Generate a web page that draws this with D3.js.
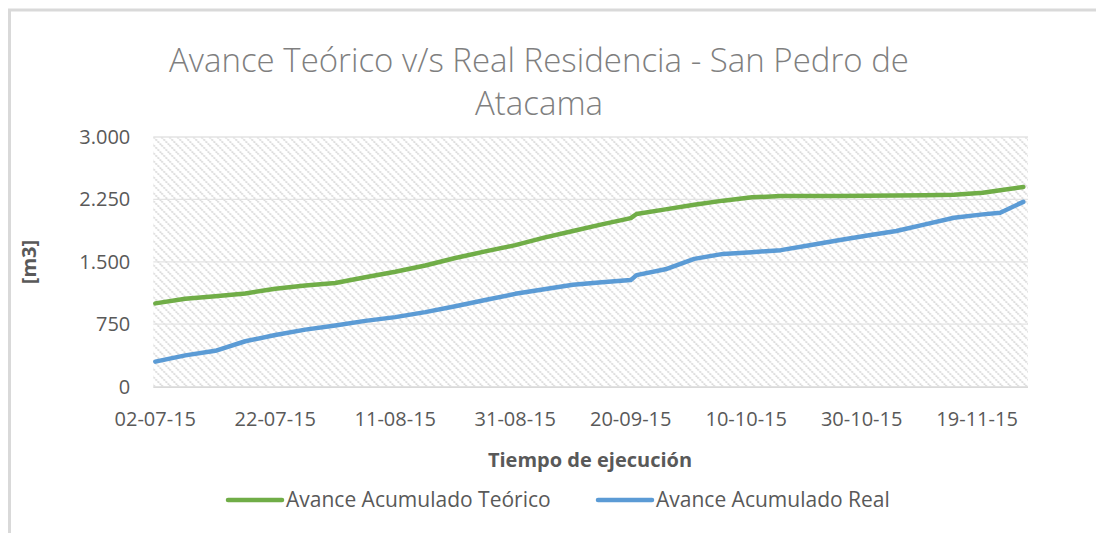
<!DOCTYPE html>
<html><head><meta charset="utf-8">
<script src="https://cdn.jsdelivr.net/npm/d3@7"></script>
<style>
html,body{margin:0;padding:0;background:#fff;overflow:hidden;}
svg{display:block;font-family:"Open Sans",sans-serif;}
</style></head>
<body>
<svg id="chart" width="1096" height="533"></svg>
<script>
// ---- data ----
const dates = ["02-07-15","07-07-15","12-07-15","17-07-15","22-07-15","27-07-15","01-08-15","06-08-15","11-08-15","16-08-15","21-08-15","26-08-15","31-08-15","05-09-15","10-09-15","15-09-15","20-09-15","21-09-15","26-09-15","01-10-15","06-10-15","11-10-15","16-10-15","21-10-15","26-10-15","31-10-15","05-11-15","10-11-15","15-11-15","20-11-15","23-11-15","27-11-15"];
const teorico = [1000,1055,1085,1120,1175,1215,1245,1315,1380,1455,1545,1625,1700,1790,1870,1950,2025,2075,2130,2185,2235,2275,2290,2292,2292,2293,2297,2300,2305,2331,2360,2400];
const real = [300,375,430,545,620,685,735,790,835,895,965,1040,1115,1170,1225,1255,1280,1340,1410,1535,1595,1615,1640,1700,1760,1815,1870,1950,2030,2070,2090,2220];
const tickLabels = ["02-07-15","22-07-15","11-08-15","31-08-15","20-09-15","10-10-15","30-10-15","19-11-15"];
const yTicks = [0,750,1500,2250,3000];
const seriesNames = ["Avance Acumulado Teórico","Avance Acumulado Real"];
const colors = ["#70AD47","#5B9BD5"];
const titleLines = ["Avance Teórico v/s Real Residencia - San Pedro de","Atacama"];

const parse = d3.timeParse("%d-%m-%y");
const svg = d3.select("#chart");

// outer frame (cropped on right/bottom)
svg.append("rect").attr("x",9.5).attr("y",10).attr("width",1300).attr("height",1000)
  .attr("fill","none").attr("stroke","#d9d9d9").attr("stroke-width",3);

const L = 153.3, R = 1028, T = 137, B = 386.6;
const W = R - L, H = B - T;

// pattern
const defs = svg.append("defs");
const pat = defs.append("pattern").attr("id","diag").attr("patternUnits","userSpaceOnUse")
  .attr("width",8).attr("height",8);
pat.append("rect").attr("width",8).attr("height",8).attr("fill","#fff");
pat.append("path").attr("d","M-2,-2L10,10M-2,6L2,10M6,-2L10,2")
  .attr("stroke","#d6d6d6").attr("stroke-width",1.6).attr("stroke-dasharray","2,1");

const g = svg.append("g").attr("transform",`translate(${L},${T})`);
g.append("rect").attr("width",W).attr("height",H).attr("fill","url(#diag)");

const d0 = parse(dates[0]), dEnd = parse(dates[dates.length-1]), dBreak = parse(tickLabels[3]);
const x = d3.scaleTime().domain([d0, dBreak, dEnd]).range([2, 362, W-4.7]);
const y = d3.scaleLinear().domain([0,3000]).range([H,0]);

// gridlines
g.append("g").selectAll("line").data(yTicks.filter(v=>v>0)).join("line")
  .attr("x1",0).attr("x2",W).attr("y1",d=>y(d)).attr("y2",d=>y(d))
  .attr("stroke","#e3e3e3").attr("stroke-width",1.3);
g.append("line").attr("x1",0).attr("x2",W).attr("y1",H+0.5).attr("y2",H+0.5)
  .attr("stroke","#d9d9d9").attr("stroke-width",1.6);

// y axis labels
const fmt = v => d3.format(",")(v).replace(/,/g,".");
g.append("g").selectAll("text").data(yTicks).join("text")
  .attr("x",-23).attr("y",d=>y(d)).attr("dy","0.35em").attr("text-anchor","end")
  .attr("font-size",20).attr("fill","#595959").text(fmt);

// x axis labels
g.append("g").selectAll("text").data(tickLabels).join("text")
  .attr("x",d=>x(parse(d))).attr("y",H+39).attr("text-anchor","middle")
  .attr("font-size",20).attr("fill","#595959").text(d=>d);

// lines
const line = d3.line().x((d,i)=>x(parse(dates[i]))).y(d=>y(d)).curve(d3.curveLinear);
[teorico, real].forEach((s,k)=>{
  g.append("path").datum(s).attr("d",line).attr("fill","none")
    .attr("stroke",colors[k]).attr("stroke-width",4.5)
    .attr("stroke-linejoin","round").attr("stroke-linecap","round");
});

// title
svg.append("g").selectAll("text").data(titleLines).join("text")
  .attr("x",539).attr("y",(d,i)=>72+i*43).attr("text-anchor","middle")
  .attr("font-size",33).attr("font-weight",300).attr("fill","#7f7f7f").text(d=>d);

// axis titles
svg.append("text").attr("x",590).attr("y",467).attr("text-anchor","middle")
  .attr("font-size",20).attr("font-weight",700).attr("fill","#595959").text("Tiempo de ejecución");
svg.append("text").attr("transform","translate(36,262) rotate(-90)").attr("text-anchor","middle")
  .attr("font-size",20).attr("font-weight",700).attr("fill","#595959").text("[m3]");

// legend
const legX = [228, 598];
const lg = svg.append("g");
seriesNames.forEach((n,k)=>{
  lg.append("line").attr("x1",legX[k]).attr("x2",legX[k]+54).attr("y1",500).attr("y2",500)
    .attr("stroke",colors[k]).attr("stroke-width",4.5).attr("stroke-linecap","round");
  lg.append("text").attr("x",legX[k]+58).attr("y",500).attr("dy","0.35em")
    .attr("font-size",21).attr("fill","#595959").text(n);
});
</script>
</body></html>
